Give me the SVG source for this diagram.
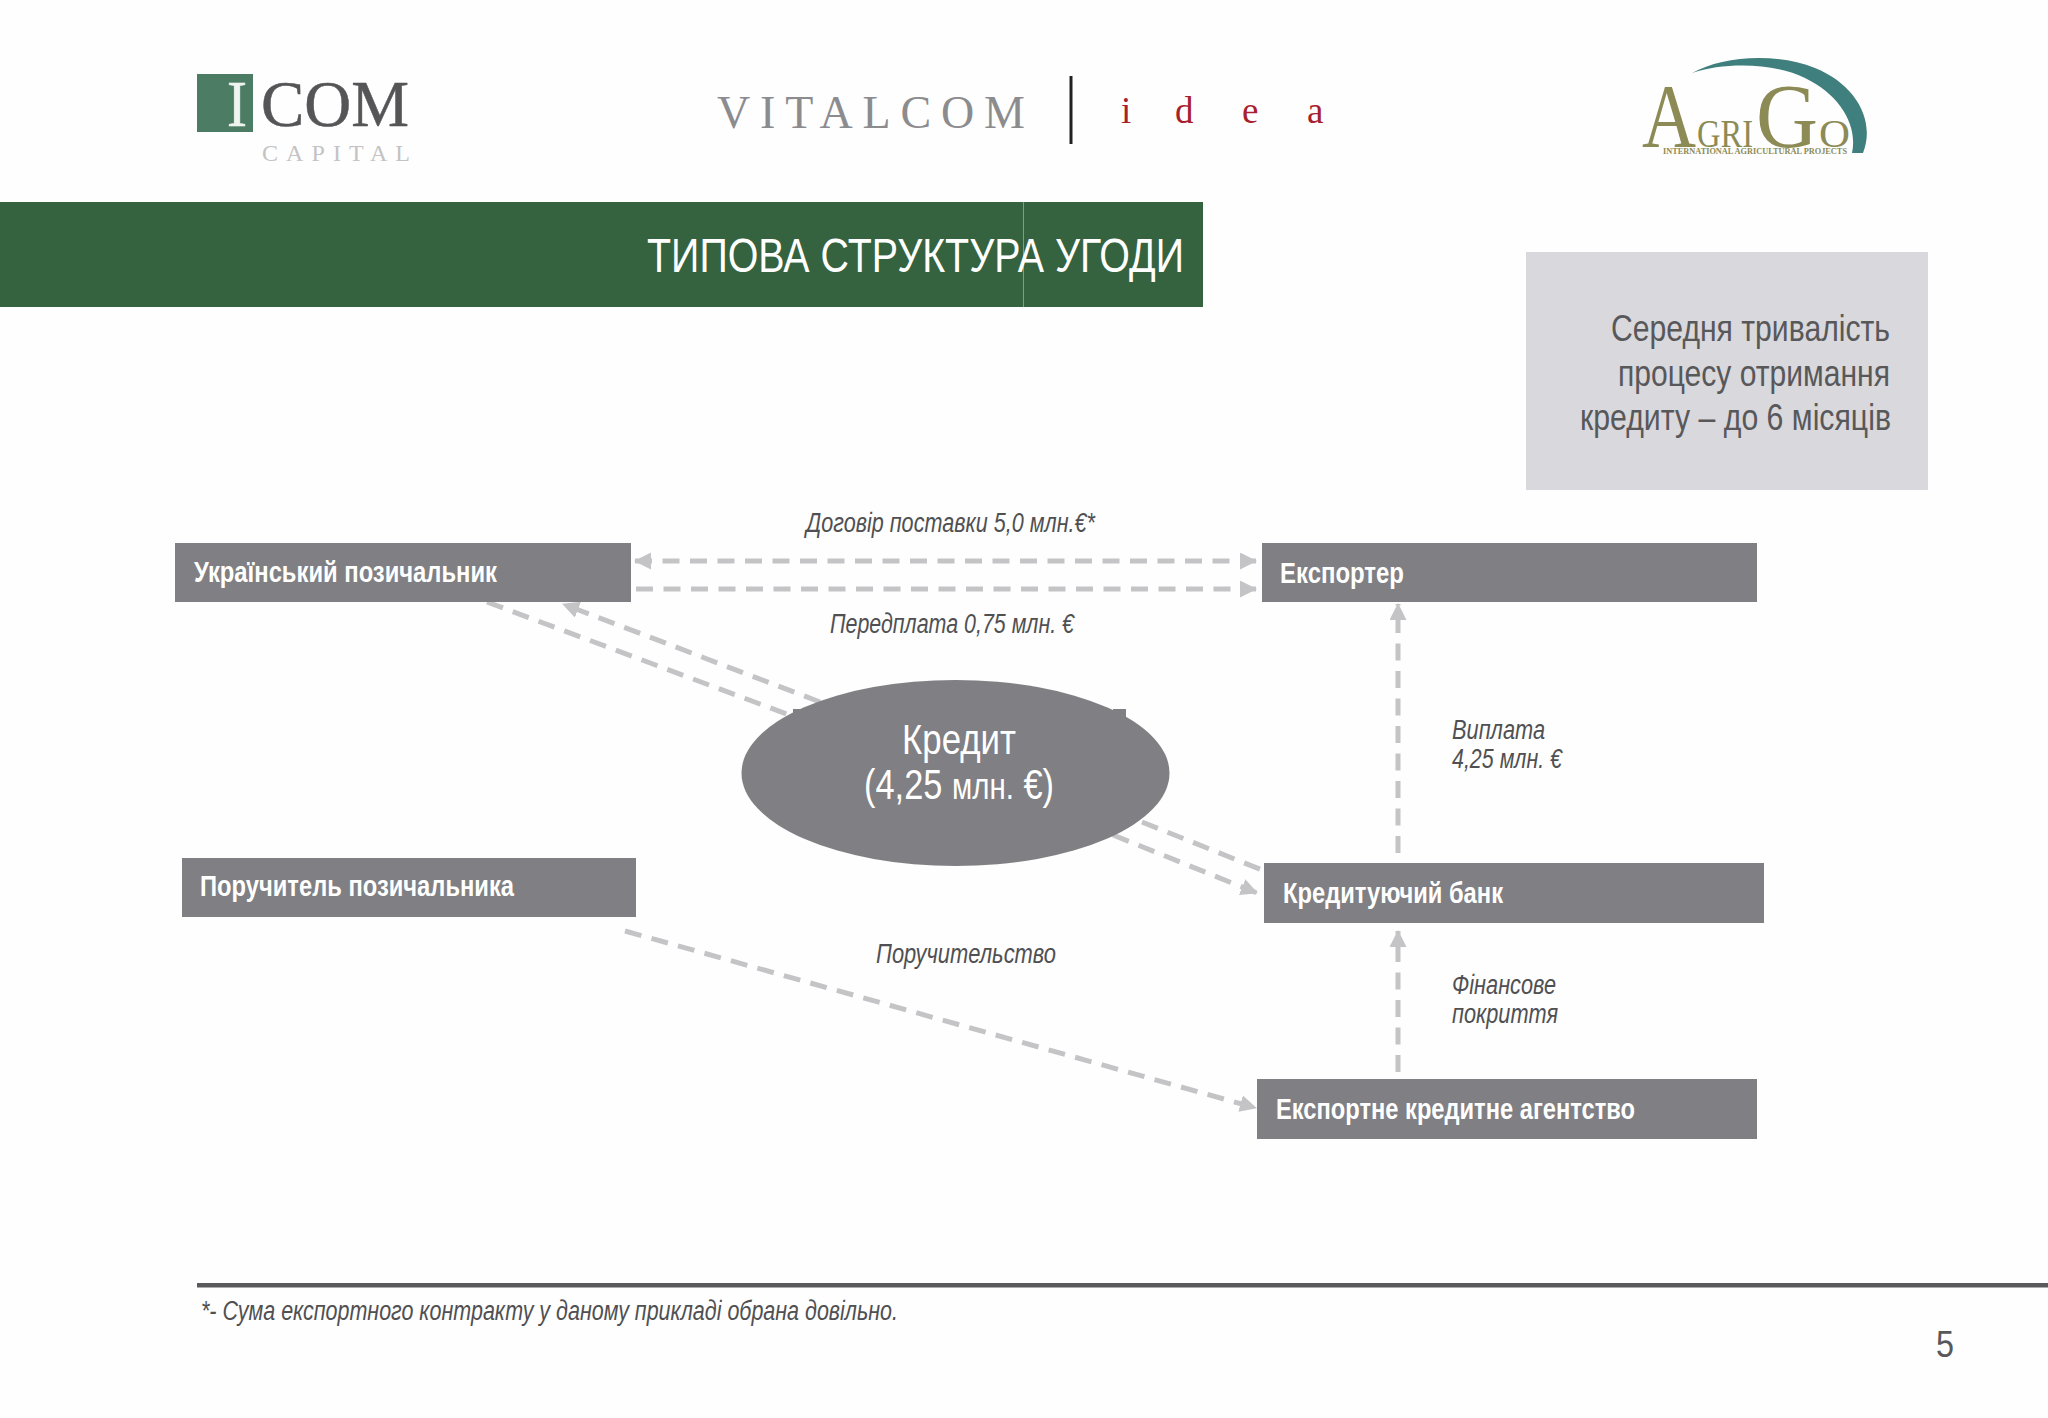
<svg xmlns="http://www.w3.org/2000/svg" width="2048" height="1418" viewBox="0 0 2048 1418">
<style>
text{font-family:"Liberation Sans",Arial,sans-serif}
.s{font-family:"Liberation Serif","Times New Roman",serif}
.n{fill:#807f83}
.b{font-size:29px;font-weight:bold;fill:#fff}
.i{font-size:27px;font-style:italic;fill:#505052}
.g{font-size:37px;fill:#58585a}
.c{fill:none;stroke:#c4c3c6;stroke-width:5;stroke-dasharray:17 10.500}
.ol{fill:#8c8a55}
</style>
<defs>
<marker id="ah" markerUnits="userSpaceOnUse" markerWidth="18" markerHeight="18" refX="16" refY="8.500" orient="auto-start-reverse"><path d="M0 0L17 8.500L0 17Z" fill="#c4c3c6"/></marker>
</defs>
<rect width="2048" height="1418" fill="#fefefe"/>
<g id="logo-icom">
<rect x="197" y="74" width="56" height="58" fill="#4c7c63"/>
<text class="s" x="237" y="126" text-anchor="middle" font-size="66" fill="#f0f4f0" stroke="#f0f4f0" stroke-width="0.600" textLength="20" lengthAdjust="spacingAndGlyphs">I</text>
<text class="s" x="261" y="126" font-size="66" fill="#555557" stroke="#555557" stroke-width="0.500" textLength="148" lengthAdjust="spacingAndGlyphs">COM</text>
<text class="s" x="262" y="161" font-size="24" fill="#c4c3c3" textLength="148">CAPITAL</text>
</g>
<g id="logo-vitalcom">
<text class="s" x="717" y="128" font-size="46" fill="#8c8c8f" textLength="308">VITALCOM</text>
<rect x="1069.500" y="76" width="3" height="68" fill="#222"/>
<text class="s" x="1121 1175 1242 1307" y="123" font-size="37" fill="#a81f2e">idea</text>
</g>
<g id="logo-agrigo">
<path d="M1692 73C1722 56 1775 52 1815 68C1855 84 1876 120 1863 153L1852 153C1858 125 1840 95 1805 78C1775 63 1725 62 1692 73Z" fill="#3f7f7e"/>
<text class="s ol" x="1642" y="147" font-size="90" textLength="54" lengthAdjust="spacingAndGlyphs">A</text>
<text class="s ol" x="1697" y="147" font-size="40" textLength="56" lengthAdjust="spacingAndGlyphs">GRI</text>
<text class="s ol" x="1756" y="147" font-size="90" textLength="62" lengthAdjust="spacingAndGlyphs">G</text>
<text class="s ol" x="1819" y="147" font-size="40" textLength="31" lengthAdjust="spacingAndGlyphs">O</text>
<text class="s ol" x="1663" y="154" font-size="7.500" font-weight="bold" textLength="184" lengthAdjust="spacingAndGlyphs">INTERNATIONAL AGRICULTURAL PROJECTS</text>
</g>
<g id="title-banner">
<rect x="0" y="202" width="1203" height="105" fill="#35623f"/>
<rect x="1023" y="202" width="1" height="105" fill="#7f9c87"/>
<text x="647" y="272" font-size="48" fill="#fff" textLength="537" lengthAdjust="spacingAndGlyphs">ТИПОВА СТРУКТУРА УГОДИ</text>
</g>
<g id="duration-note">
<rect x="1526" y="252" width="402" height="238" fill="#d9d8dc"/>
<text class="g" x="1890" y="341" text-anchor="end" textLength="279" lengthAdjust="spacingAndGlyphs">Середня тривалість</text>
<text class="g" x="1890" y="386" text-anchor="end" textLength="272" lengthAdjust="spacingAndGlyphs">процесу отримання</text>
<text class="g" x="1891" y="430" text-anchor="end" textLength="311" lengthAdjust="spacingAndGlyphs">кредиту – до 6 місяців</text>
</g>
<g id="connectors">
<path class="c" d="M635 561H1256" marker-start="url(#ah)" marker-end="url(#ah)"/>
<path class="c" d="M636 589H1256" marker-end="url(#ah)"/>
<path class="c" d="M820 702L563 604" marker-end="url(#ah)"/>
<path class="c" d="M487 602L792 716"/>
<path class="c" d="M1142 822L1262 870"/>
<path class="c" d="M1113 835L1257 893" marker-end="url(#ah)"/>
<path class="c" d="M625 931L1256 1108" marker-end="url(#ah)"/>
<path class="c" d="M1398 853V604" marker-end="url(#ah)"/>
<path class="c" d="M1398 1072V931" marker-end="url(#ah)"/>
</g>
<g id="n-borrower"><rect class="n" x="175" y="543" width="456" height="59"/><text class="b" x="194" y="582" textLength="303" lengthAdjust="spacingAndGlyphs">Український позичальник</text></g>
<g id="n-exporter"><rect class="n" x="1262" y="543" width="495" height="59"/><text class="b" x="1280" y="583" textLength="124" lengthAdjust="spacingAndGlyphs">Експортер</text></g>
<g id="n-guarantor"><rect class="n" x="182" y="858" width="454" height="59"/><text class="b" x="200" y="896" textLength="314" lengthAdjust="spacingAndGlyphs">Поручитель позичальника</text></g>
<g id="n-bank"><rect class="n" x="1264" y="863" width="500" height="60"/><text class="b" x="1283" y="903" textLength="220" lengthAdjust="spacingAndGlyphs">Кредитуючий банк</text></g>
<g id="n-eca"><rect class="n" x="1257" y="1079" width="500" height="60"/><text class="b" x="1276" y="1119" textLength="359" lengthAdjust="spacingAndGlyphs">Експортне кредитне агентство</text></g>
<g id="n-credit">
<ellipse class="n" cx="955.500" cy="773" rx="214" ry="93"/>
<rect class="n" x="793" y="709" width="8" height="10"/>
<rect class="n" x="1113" y="709" width="13" height="10"/>
<text x="959" y="754" text-anchor="middle" font-size="42" fill="#fff" textLength="114" lengthAdjust="spacingAndGlyphs">Кредит</text>
<text x="959" y="799" text-anchor="middle" font-size="42" fill="#fff" textLength="190" lengthAdjust="spacingAndGlyphs">(4,25 <tspan font-size="36">млн.</tspan> €)</text>
</g>
<g id="labels">
<text class="i" x="806" y="532" textLength="289" lengthAdjust="spacingAndGlyphs">Договір поставки 5,0 млн.€*</text>
<text class="i" x="830" y="633" textLength="244" lengthAdjust="spacingAndGlyphs">Передплата 0,75 млн. €</text>
<text class="i" x="1452" y="739" textLength="93" lengthAdjust="spacingAndGlyphs">Виплата</text>
<text class="i" x="1452" y="768" textLength="110" lengthAdjust="spacingAndGlyphs">4,25 млн. €</text>
<text class="i" x="876" y="963" textLength="180" lengthAdjust="spacingAndGlyphs">Поручительство</text>
<text class="i" x="1452" y="994" textLength="104" lengthAdjust="spacingAndGlyphs">Фінансове</text>
<text class="i" x="1452" y="1023" textLength="106" lengthAdjust="spacingAndGlyphs">покриття</text>
</g>
<g id="footer">
<rect x="197" y="1283" width="1851" height="4.500" fill="#5a5a5c"/>
<text class="i" x="201" y="1320" textLength="697" lengthAdjust="spacingAndGlyphs">*- Сума експортного контракту у даному прикладі обрана довільно.</text>
<text x="1936" y="1357" font-size="36" fill="#58585a" textLength="18" lengthAdjust="spacingAndGlyphs">5</text>
</g>
</svg>
